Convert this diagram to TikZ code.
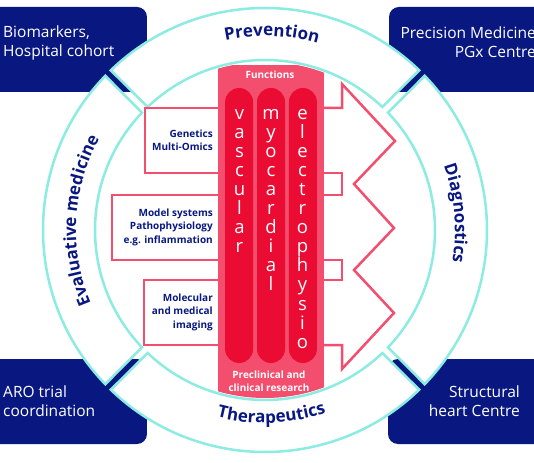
\documentclass[tikz,border=0pt]{standalone}
\usepackage{fontspec}
\setmainfont{Open Sans}
\usepackage{tikz}
\usetikzlibrary{positioning, decorations.text}
\definecolor{navyblue}{RGB}{8,24,128}
\definecolor{ringcyan}{RGB}{140,236,226}
\definecolor{pinkred}{RGB}{243,78,110}
\definecolor{pillred}{RGB}{234,12,50}
\newcommand{\ringfont}{\fontsize{17}{17}\selectfont\bfseries}

\begin{document}
\begin{tikzpicture}[x=1pt, y=1pt,
    navybox/.style={fill=navyblue, rounded corners=10pt},
    boxtext/.style={text=white, font=\fontsize{15.5}{18.5}\selectfont, inner sep=0pt},
    ringseg/.style={fill=white, draw=ringcyan, line width=2.5pt},
    pinkline/.style={draw=pinkred, line width=2.5pt},
    pill/.style={fill=pillred, rounded corners=14pt, minimum width=28pt,
                 minimum height=275pt, inner sep=0pt},
    pilltext/.style={text=white, font=\fontsize{18.5}{18.5}\selectfont,
                     anchor=base, inner sep=0pt},
    functext/.style={text=white, font=\fontsize{10}{12.5}\selectfont\bfseries,
                     align=center, inner sep=0pt},
    sidetext/.style={text=navyblue, font=\fontsize{10}{13.5}\selectfont\bfseries,
                     align=right, anchor=east, inner sep=0pt},
    ringtext/.style={decorate, decoration={text along path, text align=center,
                     text color=navyblue, text={|\ringfont|#1}}}]
    \useasboundingbox (-265,-232) rectangle (269,230);
    \clip (-265,-232) rectangle (269,230);

    % corner boxes
    \fill[navybox] (-280,223) rectangle (-118,138);
    \fill[navybox] (124,223) rectangle (285,138);
    \fill[navybox] (-280,-129) rectangle (-118,-214);
    \fill[navybox] (123,-129) rectangle (285,-214);
    \node[boxtext, anchor=west, align=left] (biomark) at (-262,187) {Biomarkers,\\Hospital cohort};
    \node[boxtext, anchor=east, align=right] (precmed) at (271,188) {Precision Medicine\\PGx Centre};
    \node[boxtext, anchor=west, align=left] (aro) at (-262,-171) {ARO trial\\coordination};
    \node[boxtext, anchor=east, align=right] (structural) at (255,-171) {Structural\\heart Centre};

    % ring
    \foreach \a in {0,90,180,270}
        \filldraw[ringseg] ({\a-44}:222) arc[start angle={\a-44}, end angle={\a+44}, radius=222pt]
            -- ({\a+43.65}:170) arc[start angle={\a+43.65}, end angle={\a-43.65}, radius=170pt] -- cycle;
    \path[ringtext=Prevention] (118:194) arc[start angle=118, end angle=58, radius=194pt];
    \path[ringtext=Diagnostics] (35:190) arc[start angle=35, end angle=-25, radius=190pt];
    \path[ringtext=Therapeutics] (242:193) arc[start angle=242, end angle=302, radius=193pt];
    \path[ringtext=Evaluative medicine] (215:189) arc[start angle=215, end angle=139, radius=189pt];

    % outlines left and right
    \draw[pinkline] (-40,122) -- (-120,122) -- (-120,57) -- (-40,57);
    \draw[pinkline] (-40,35) -- (-153,35) -- (-153,-30) -- (-40,-30);
    \draw[pinkline] (-40,-50) -- (-121,-50) -- (-121,-115) -- (-40,-115);
    \draw[pinkline] (52,122) -- (77,122) -- (77,146) -- (130,89) -- (89,46) -- (129,2)
        -- (89,-40) -- (129,-83) -- (77,-139) -- (77,-115) -- (52,-115);
    \draw[pinkline] (52,57) -- (77,57) -- (77,35) -- (52,35);
    \draw[pinkline] (52,-30) -- (77,-30) -- (77,-50) -- (52,-50);

    % functions column
    \begin{scope}
        \clip (0,0) circle[radius=168pt];
        \fill[pinkred] (-47,-175) rectangle (59,165);
    \end{scope}
    \node[pill] (myopill) at (6,4.5) {};
    \node[pill, left=3.5pt of myopill] (vascpill) {};
    \node[pill, right=3.5pt of myopill] (elecpill) {};
    \foreach \ch [count=\k from 0] in {v,a,s,c,u,l,a,r}
        \node[pilltext] (vasc\k) at (-25.5,{110-19*\k}) {\ch};
    \foreach \ch [count=\k from 0] in {m,y,o,c,a,r,d,i,a,l}
        \node[pilltext] (myo\k) at (6,{110-19*\k}) {\ch};
    \foreach \ch [count=\k from 0] in {e,l,e,c,t,r,o,p,h,y,s,i,o}
        \node[pilltext] (elec\k) at (37.5,{110-19*\k}) {\ch};
    \node[functext] (functions) at (5,155) {Functions};
    \node[functext] (preclin) at (4,-151) {Preclinical and\\clinical research};

    \node[sidetext] (genetics) at (-52,89.5) {Genetics\\Multi-Omics};
    \node[sidetext] (models) at (-52,3) {Model systems\\Pathophysiology\\e.g. inflammation};
    \node[sidetext] (imaging) at (-52,-82) {Molecular\\and medical\\imaging};
\end{tikzpicture}
\end{document}
